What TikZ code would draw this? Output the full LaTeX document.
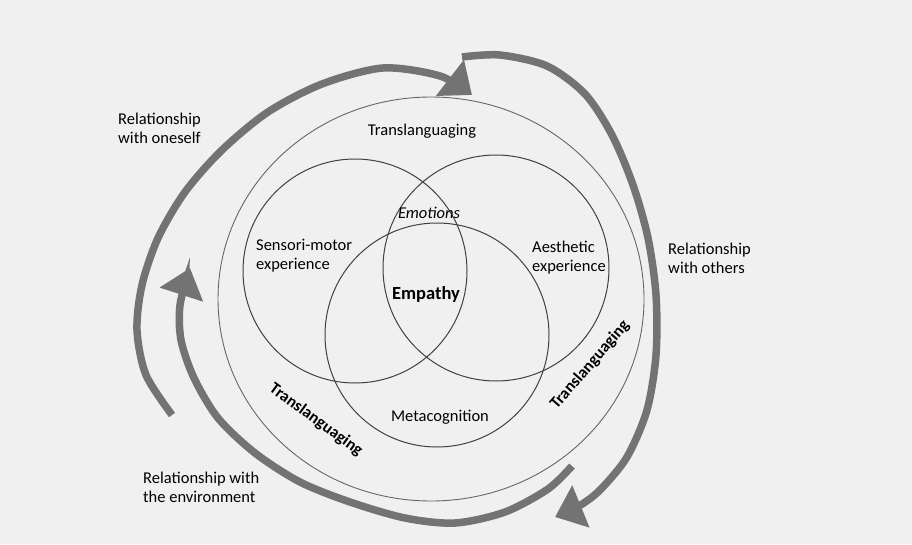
\documentclass[tikz,border=0pt]{standalone}
\usepackage{fontspec}
\setmainfont{Carlito}
\usetikzlibrary{arrows.meta}
\tikzset{
  >={Triangle[length=28pt,width=44pt]},
}
\tikzstyle{venn}=[draw=black!75,line width=1pt]
\tikzstyle{ring}=[draw=black!60,line width=.9pt]
\tikzstyle{bigarrow}=[->,draw=black!55,line width=7.5pt]
\tikzstyle{every node}=[font=\fontsize{16.5}{19}\selectfont,align=left,inner sep=0pt]
\tikzstyle{rotlabel}=[font=\fontsize{16.5}{19}\selectfont\bfseries]

\begin{document}
\begin{tikzpicture}[x=1pt,y=-1pt]
  \fill[black!6] (0,0) rectangle (912,544);
  \useasboundingbox (0,0) rectangle (912,544);

  % three overlapping circles and the ring round them
  \draw[venn] (355,271) circle[radius=112];
  \draw[venn] (496,268) circle[radius=113];
  \draw[venn] (437,335) circle[radius=112];
  \draw[ring] (431,299) ellipse[x radius=213,y radius=202];

  % ends of the big arrows
  \coordinate (selfTail) at (172,415);
  \coordinate (selfTip) at (472,95);
  \coordinate (othersTail) at (462,57);
  \coordinate (othersTip) at (555,517);
  \coordinate (envTail) at (572,466);
  \coordinate (envTip) at (190,268);

  \draw[bigarrow] plot[smooth] coordinates {(selfTail) (146,375) (137,330) (142,285)
    (158,238) (185,192) (222,150) (268,112) (322,84) (383,68) (440,76) (selfTip)};
  \draw[bigarrow] plot[smooth] coordinates {(othersTail) (500,55) (547,66) (585,94)
    (612,135) (633,185) (648,238) (656,295) (656,355) (647,410) (627,457) (600,490)
    (579,506) (othersTip)};
  \draw[bigarrow] plot[smooth] coordinates {(envTail) (548,489) (505,512) (455,523)
    (405,518) (350,502) (300,482) (255,453) (218,418) (194,378) (181,340) (180,305) (envTip)};

  % labels
  \node[anchor=west] (oneself) at (118,128) {Relationship\\with oneself};
  \node (transTop) at (422,131) {Translanguaging};
  \node[anchor=west] (sensori) at (256,256) {Sensori-motor\\experience};
  \node (emotions) at (429,213) {\itshape Emotions};
  \node[anchor=west] (aesthetic) at (532,258) {Aesthetic\\experience};
  \node[font=\fontsize{18.5}{21}\selectfont\bfseries] (empathy) at (426,294) {Empathy};
  \node (meta) at (440,417) {Metacognition};
  \node[anchor=west] (others) at (668,258) {Relationship\\with others};
  \node[anchor=west] (environment) at (143,487) {Relationship with\\the environment};
  \node[rotlabel,rotate=-36] (transLeft) at (316,420) {Translanguaging};
  \node[rotlabel,rotate=49] (transRight) at (590,365) {Translanguaging};
\end{tikzpicture}
\end{document}
